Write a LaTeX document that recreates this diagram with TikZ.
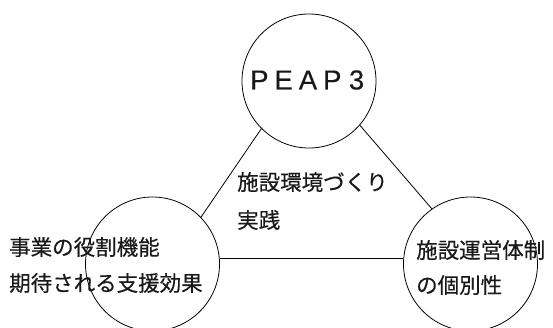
\documentclass[tikz,border=0pt]{standalone}
\usepackage{fontspec}
\newfontfamily\jp[FakeBold=0.4]{Noto Sans CJK JP}
\newfontfamily\lat[FakeBold=0.3]{Liberation Sans}
\begin{document}
\begin{tikzpicture}[x=1pt,y=-1pt,
  ring/.style={circle,draw,line width=0.8pt,minimum size=134pt,inner sep=0pt},
  link/.style={draw,line width=0.8pt},
  jtext/.style={font=\jp\fontsize{21.5}{26}\selectfont,anchor=west,inner sep=0pt,text=black!90},
  ltext/.style={font=\lat\fontsize{27.5}{30}\selectfont,inner sep=0pt,text=black!90}]
\useasboundingbox (0,0) rectangle (553,327);
\node[ring] (top) at (309,81) {};
\node[ring] (left) at (152.5,264) {};
\node[ring] (right) at (470.5,264) {};
\draw[link] (top.225) -- (left.44);
\draw[link] (top.319) -- (right.125);
\draw[link] (left.5) -- (right.175);
\node[ltext] (peap) at (308,80) {\makebox[24.3pt]{P}\makebox[24.3pt]{E}\makebox[24.3pt]{A}\makebox[24.3pt]{P}\makebox[24.3pt]{3}};
\node[jtext] (mid1) at (237,182) {施設環境づくり};
\node[jtext] (mid2) at (237,220) {実践};
\node[jtext] (left1) at (9,247) {事業の役割機能};
\node[jtext] (left2) at (9,283) {期待される支援効果};
\node[jtext] (right1) at (416,250) {施設運営体制};
\node[jtext] (right2) at (416,285) {の個別性};
\end{tikzpicture}
\end{document}
